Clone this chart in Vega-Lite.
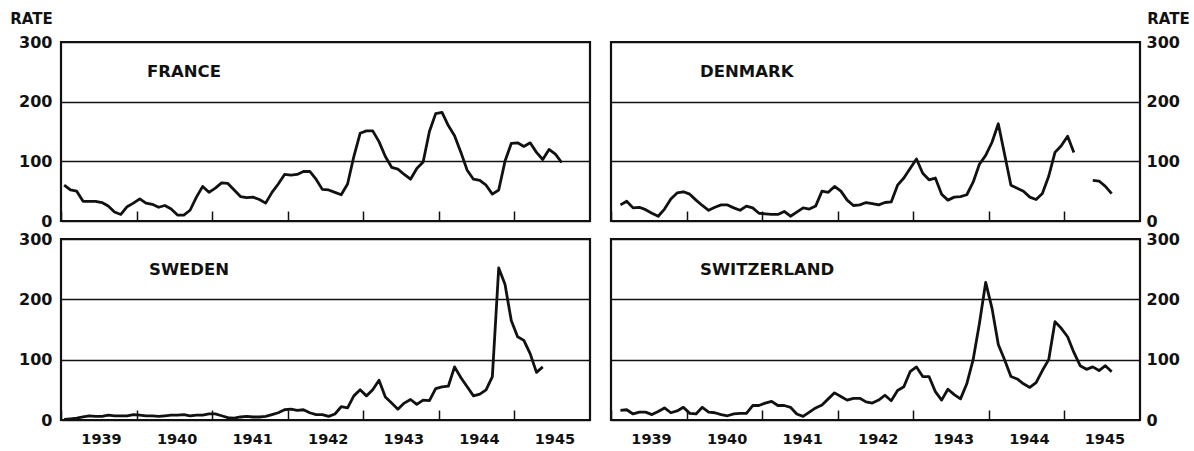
{
  "$schema": "https://vega.github.io/schema/vega-lite/v6.json",
  "background": "white",
  "padding": {"left": 8, "top": 9, "right": 2, "bottom": 2},
  "config": {
    "view": {"stroke": "#111", "strokeWidth": 2.2},
    "font": "DejaVu Sans",
    "axis": {"domain": false, "labelFont": "DejaVu Sans", "labelFontWeight": "bold", "labelColor": "#111", "titleColor": "#111", "titleFont": "DejaVu Sans"},
    "title": {"font": "DejaVu Sans", "fontWeight": "bold", "fontSize": 16.5, "color": "#111", "anchor": "start", "frame": "group"}
  },
  "datasets": {
    "rates": [
      {"year": 1939.042, "France": 60, "Denmark": null, "Sweden": 1, "Switzerland": null},
      {"year": 1939.125, "France": 52, "Denmark": 27, "Sweden": 2, "Switzerland": 16},
      {"year": 1939.208, "France": 50, "Denmark": 33, "Sweden": 3, "Switzerland": 17},
      {"year": 1939.292, "France": 33, "Denmark": 22, "Sweden": 5, "Switzerland": 10},
      {"year": 1939.375, "France": 33, "Denmark": 23, "Sweden": 7, "Switzerland": 13},
      {"year": 1939.458, "France": 33, "Denmark": 19, "Sweden": 6, "Switzerland": 13},
      {"year": 1939.542, "France": 31, "Denmark": 13, "Sweden": 6, "Switzerland": 9},
      {"year": 1939.625, "France": 25, "Denmark": 8, "Sweden": 8, "Switzerland": 14},
      {"year": 1939.708, "France": 15, "Denmark": 20, "Sweden": 7, "Switzerland": 20},
      {"year": 1939.792, "France": 11, "Denmark": 37, "Sweden": 7, "Switzerland": 12},
      {"year": 1939.875, "France": 24, "Denmark": 47, "Sweden": 7, "Switzerland": 15},
      {"year": 1939.958, "France": 30, "Denmark": 49, "Sweden": 9, "Switzerland": 21},
      {"year": 1940.042, "France": 37, "Denmark": 45, "Sweden": 8, "Switzerland": 11},
      {"year": 1940.125, "France": 30, "Denmark": 35, "Sweden": 7, "Switzerland": 10},
      {"year": 1940.208, "France": 28, "Denmark": 26, "Sweden": 7, "Switzerland": 21},
      {"year": 1940.292, "France": 23, "Denmark": 18, "Sweden": 6, "Switzerland": 13},
      {"year": 1940.375, "France": 26, "Denmark": 23, "Sweden": 7, "Switzerland": 12},
      {"year": 1940.458, "France": 20, "Denmark": 27, "Sweden": 8, "Switzerland": 9},
      {"year": 1940.542, "France": 10, "Denmark": 27, "Sweden": 8, "Switzerland": 7},
      {"year": 1940.625, "France": 10, "Denmark": 22, "Sweden": 9, "Switzerland": 10},
      {"year": 1940.708, "France": 18, "Denmark": 18, "Sweden": 7, "Switzerland": 11},
      {"year": 1940.792, "France": 40, "Denmark": 25, "Sweden": 8, "Switzerland": 11},
      {"year": 1940.875, "France": 58, "Denmark": 22, "Sweden": 8, "Switzerland": 24},
      {"year": 1940.958, "France": 48, "Denmark": 13, "Sweden": 10, "Switzerland": 24},
      {"year": 1941.042, "France": 55, "Denmark": 12, "Sweden": 10, "Switzerland": 28},
      {"year": 1941.125, "France": 64, "Denmark": 11, "Sweden": 7, "Switzerland": 31},
      {"year": 1941.208, "France": 63, "Denmark": 11, "Sweden": 4, "Switzerland": 24},
      {"year": 1941.292, "France": 52, "Denmark": 16, "Sweden": 3, "Switzerland": 24},
      {"year": 1941.375, "France": 41, "Denmark": 8, "Sweden": 5, "Switzerland": 21},
      {"year": 1941.458, "France": 39, "Denmark": 15, "Sweden": 6, "Switzerland": 10},
      {"year": 1941.542, "France": 40, "Denmark": 22, "Sweden": 5, "Switzerland": 6},
      {"year": 1941.625, "France": 36, "Denmark": 20, "Sweden": 5, "Switzerland": 13},
      {"year": 1941.708, "France": 30, "Denmark": 25, "Sweden": 6, "Switzerland": 20},
      {"year": 1941.792, "France": 48, "Denmark": 50, "Sweden": 9, "Switzerland": 25},
      {"year": 1941.875, "France": 62, "Denmark": 48, "Sweden": 12, "Switzerland": 35},
      {"year": 1941.958, "France": 78, "Denmark": 58, "Sweden": 17, "Switzerland": 45},
      {"year": 1942.042, "France": 77, "Denmark": 50, "Sweden": 18, "Switzerland": 39},
      {"year": 1942.125, "France": 78, "Denmark": 35, "Sweden": 16, "Switzerland": 33},
      {"year": 1942.208, "France": 83, "Denmark": 26, "Sweden": 17, "Switzerland": 36},
      {"year": 1942.292, "France": 83, "Denmark": 27, "Sweden": 12, "Switzerland": 36},
      {"year": 1942.375, "France": 70, "Denmark": 31, "Sweden": 9, "Switzerland": 30},
      {"year": 1942.458, "France": 53, "Denmark": 29, "Sweden": 9, "Switzerland": 28},
      {"year": 1942.542, "France": 52, "Denmark": 27, "Sweden": 6, "Switzerland": 33},
      {"year": 1942.625, "France": 48, "Denmark": 31, "Sweden": 10, "Switzerland": 41},
      {"year": 1942.708, "France": 44, "Denmark": 32, "Sweden": 22, "Switzerland": 32},
      {"year": 1942.792, "France": 62, "Denmark": 60, "Sweden": 20, "Switzerland": 49},
      {"year": 1942.875, "France": 108, "Denmark": 72, "Sweden": 40, "Switzerland": 55},
      {"year": 1942.958, "France": 147, "Denmark": 88, "Sweden": 50, "Switzerland": 80},
      {"year": 1943.042, "France": 151, "Denmark": 104, "Sweden": 40, "Switzerland": 88},
      {"year": 1943.125, "France": 151, "Denmark": 80, "Sweden": 50, "Switzerland": 72},
      {"year": 1943.208, "France": 133, "Denmark": 69, "Sweden": 66, "Switzerland": 72},
      {"year": 1943.292, "France": 108, "Denmark": 72, "Sweden": 38, "Switzerland": 47},
      {"year": 1943.375, "France": 90, "Denmark": 45, "Sweden": 28, "Switzerland": 33},
      {"year": 1943.458, "France": 87, "Denmark": 35, "Sweden": 18, "Switzerland": 51},
      {"year": 1943.542, "France": 78, "Denmark": 40, "Sweden": 28, "Switzerland": 42},
      {"year": 1943.625, "France": 70, "Denmark": 41, "Sweden": 34, "Switzerland": 35},
      {"year": 1943.708, "France": 88, "Denmark": 44, "Sweden": 26, "Switzerland": 60},
      {"year": 1943.792, "France": 99, "Denmark": 65, "Sweden": 33, "Switzerland": 100},
      {"year": 1943.875, "France": 150, "Denmark": 95, "Sweden": 32, "Switzerland": 160},
      {"year": 1943.958, "France": 180, "Denmark": 110, "Sweden": 52, "Switzerland": 228},
      {"year": 1944.042, "France": 182, "Denmark": 132, "Sweden": 55, "Switzerland": 185},
      {"year": 1944.125, "France": 160, "Denmark": 163, "Sweden": 56, "Switzerland": 125},
      {"year": 1944.208, "France": 143, "Denmark": 112, "Sweden": 88, "Switzerland": 100},
      {"year": 1944.292, "France": 115, "Denmark": 60, "Sweden": 70, "Switzerland": 72},
      {"year": 1944.375, "France": 85, "Denmark": 55, "Sweden": 55, "Switzerland": 68},
      {"year": 1944.458, "France": 70, "Denmark": 50, "Sweden": 40, "Switzerland": 60},
      {"year": 1944.542, "France": 68, "Denmark": 40, "Sweden": 43, "Switzerland": 54},
      {"year": 1944.625, "France": 60, "Denmark": 36, "Sweden": 50, "Switzerland": 62},
      {"year": 1944.708, "France": 45, "Denmark": 46, "Sweden": 72, "Switzerland": 82},
      {"year": 1944.792, "France": 52, "Denmark": 75, "Sweden": 252, "Switzerland": 100},
      {"year": 1944.875, "France": 100, "Denmark": 115, "Sweden": 225, "Switzerland": 163},
      {"year": 1944.958, "France": 130, "Denmark": 126, "Sweden": 165, "Switzerland": 152},
      {"year": 1945.042, "France": 131, "Denmark": 142, "Sweden": 138, "Switzerland": 138},
      {"year": 1945.125, "France": 125, "Denmark": 115, "Sweden": 132, "Switzerland": 112},
      {"year": 1945.208, "France": 131, "Denmark": null, "Sweden": 110, "Switzerland": 90},
      {"year": 1945.292, "France": 115, "Denmark": null, "Sweden": 79, "Switzerland": 84},
      {"year": 1945.375, "France": 103, "Denmark": 68, "Sweden": 88, "Switzerland": 88},
      {"year": 1945.458, "France": 120, "Denmark": 67, "Sweden": null, "Switzerland": 82},
      {"year": 1945.542, "France": 112, "Denmark": 58, "Sweden": null, "Switzerland": 90},
      {"year": 1945.625, "France": 98, "Denmark": 46, "Sweden": null, "Switzerland": 80}
    ]
  },
  "columns": 2,
  "bounds": "flush",
  "spacing": {"row": 18, "column": 21},
  "concat": [
    {
      "width": 529, "height": 179,
      "title": {"text": "FRANCE", "dx": 86, "offset": -69},
      "data": {"name": "rates"},
      "mark": {"type": "line", "color": "#111", "strokeWidth": 2.8, "strokeJoin": "round"},
      "encoding": {
        "x": {"field": "year", "type": "quantitative", "scale": {"domain": [1939, 1946], "nice": false, "zero": false},
          "axis": {"values": [1939, 1940, 1941, 1942, 1943, 1944, 1945], "labels": false, "tickSize": -10, "tickWidth": 1.5, "tickColor": "#111", "grid": false, "title": null}},
        "y": {"field": "France", "type": "quantitative", "scale": {"domain": [0, 300], "nice": false},
          "axis": {"orient": "left", "values": [0, 100, 200, 300], "grid": true, "gridColor": "#111", "gridWidth": 1.6, "gridOpacity": 1, "ticks": false, "labelPadding": 9, "labelFontSize": 16, "title": "RATE", "titleAngle": 0, "titleX": -30, "titleY": -16, "titleAlign": "center", "titleBaseline": "bottom", "titleFontSize": 15, "titleFontWeight": "bold"}}
      }
    },
    {
      "width": 529, "height": 179,
      "title": {"text": "DENMARK", "dx": 89, "offset": -69},
      "data": {"name": "rates"},
      "mark": {"type": "line", "color": "#111", "strokeWidth": 2.8, "strokeJoin": "round"},
      "encoding": {
        "x": {"field": "year", "type": "quantitative", "scale": {"domain": [1939, 1946], "nice": false, "zero": false},
          "axis": {"values": [1939, 1940, 1941, 1942, 1943, 1944, 1945], "labels": false, "tickSize": -10, "tickWidth": 1.5, "tickColor": "#111", "grid": false, "title": null}},
        "y": {"field": "Denmark", "type": "quantitative", "scale": {"domain": [0, 300], "nice": false},
          "axis": {"orient": "right", "values": [0, 100, 200, 300], "grid": true, "gridColor": "#111", "gridWidth": 1.6, "gridOpacity": 1, "ticks": false, "labelPadding": 6, "labelFontSize": 16, "title": "RATE", "titleAngle": 0, "titleX": 28, "titleY": -16, "titleAlign": "center", "titleBaseline": "bottom", "titleFontSize": 15, "titleFontWeight": "bold"}}
      }
    },
    {
      "width": 529, "height": 181,
      "title": {"text": "SWEDEN", "dx": 88, "offset": -47},
      "data": {"name": "rates"},
      "mark": {"type": "line", "color": "#111", "strokeWidth": 2.8, "strokeJoin": "round"},
      "encoding": {
        "x": {"field": "year", "type": "quantitative", "scale": {"domain": [1939, 1946], "nice": false, "zero": false},
          "axis": {"values": [1939, 1940, 1941, 1942, 1943, 1944, 1945], "format": "d", "labelFlush": false, "labelOffset": 40, "labelPadding": 22, "labelFontSize": 14.5, "tickSize": -10, "tickWidth": 1.5, "tickColor": "#111", "grid": false, "title": null}},
        "y": {"field": "Sweden", "type": "quantitative", "scale": {"domain": [0, 300], "nice": false},
          "axis": {"orient": "left", "values": [0, 100, 200, 300], "grid": true, "gridColor": "#111", "gridWidth": 1.6, "gridOpacity": 1, "ticks": false, "labelPadding": 9, "labelFontSize": 16, "title": null}}
      }
    },
    {
      "width": 529, "height": 181,
      "title": {"text": "SWITZERLAND", "dx": 89, "offset": -47},
      "data": {"name": "rates"},
      "mark": {"type": "line", "color": "#111", "strokeWidth": 2.8, "strokeJoin": "round"},
      "encoding": {
        "x": {"field": "year", "type": "quantitative", "scale": {"domain": [1939, 1946], "nice": false, "zero": false},
          "axis": {"values": [1939, 1940, 1941, 1942, 1943, 1944, 1945], "format": "d", "labelFlush": false, "labelOffset": 40, "labelPadding": 22, "labelFontSize": 14.5, "tickSize": -10, "tickWidth": 1.5, "tickColor": "#111", "grid": false, "title": null}},
        "y": {"field": "Switzerland", "type": "quantitative", "scale": {"domain": [0, 300], "nice": false},
          "axis": {"orient": "right", "values": [0, 100, 200, 300], "grid": true, "gridColor": "#111", "gridWidth": 1.6, "gridOpacity": 1, "ticks": false, "labelPadding": 6, "labelFontSize": 16, "title": null}}
      }
    }
  ]
}
